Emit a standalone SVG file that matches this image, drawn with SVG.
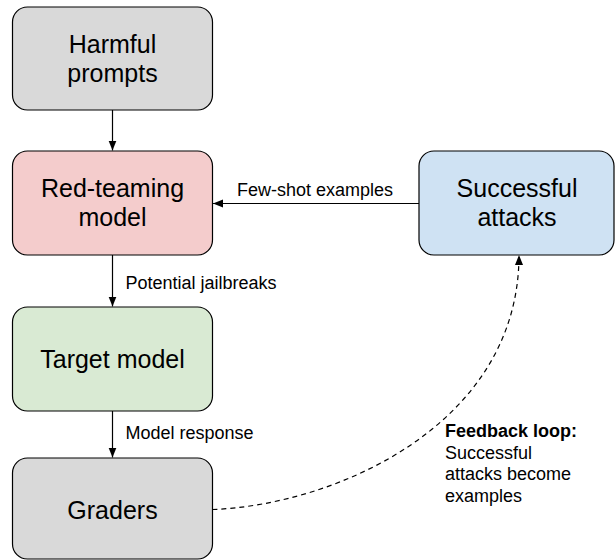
<svg xmlns="http://www.w3.org/2000/svg" width="616" height="560" viewBox="0 0 616 560">
  <style>
    .box { stroke: #000; stroke-width: 1.2; }
    .gray { fill: #d9d9d9; }
    .red { fill: #f4cccc; }
    .green { fill: #d9ead3; }
    .blue { fill: #cfe2f3; }
    .node-text { font-family: "Liberation Sans", Arial, sans-serif; font-size: 25px; fill: #000; text-anchor: middle; }
    .label { font-family: "Liberation Sans", Arial, sans-serif; font-size: 18px; fill: #000; }
    .edge { fill: none; stroke: #000; stroke-width: 1.2; }
    .dashed { stroke-dasharray: 5 4; }
  </style>
  <defs>
    <marker id="arrow" markerUnits="userSpaceOnUse" markerWidth="10" markerHeight="10" viewBox="0 0 10 10" refX="10" refY="5" orient="auto">
      <path d="M0,1 L10,5 L0,9 Z" fill="#000"/>
    </marker>
  </defs>

  <!-- connectors -->
  <g id="connectors">
    <line class="edge" x1="112.5" y1="110" x2="112.5" y2="150.5" marker-end="url(#arrow)"/>
    <line class="edge" x1="419" y1="203.5" x2="213" y2="203.5" marker-end="url(#arrow)"/>
    <line class="edge" x1="112.5" y1="255" x2="112.5" y2="306.5" marker-end="url(#arrow)"/>
    <line class="edge" x1="112.5" y1="411" x2="112.5" y2="457.5" marker-end="url(#arrow)"/>
    <path class="edge dashed" d="M212.5,509.5 C335,505 519,425 519,255" marker-end="url(#arrow)"/>
    <text class="label" x="315" y="196" text-anchor="middle">Few-shot examples</text>
    <text class="label" x="125.5" y="289">Potential jailbreaks</text>
    <text class="label" x="125.5" y="439">Model response</text>
  </g>

  <g id="harmful-prompts">
    <rect class="box gray" x="12.5" y="7" width="200" height="103" rx="15"/>
    <text class="node-text" x="112.5" y="53">Harmful</text>
    <text class="node-text" x="112.5" y="82">prompts</text>
  </g>

  <g id="red-teaming-model">
    <rect class="box red" x="12.5" y="151" width="200" height="104" rx="15"/>
    <text class="node-text" x="112.5" y="197">Red-teaming</text>
    <text class="node-text" x="112.5" y="226">model</text>
  </g>

  <g id="successful-attacks">
    <rect class="box blue" x="419" y="151" width="195" height="104" rx="15"/>
    <text class="node-text" x="517" y="197">Successful</text>
    <text class="node-text" x="517" y="226">attacks</text>
  </g>

  <g id="target-model">
    <rect class="box green" x="12.5" y="307" width="200" height="104" rx="15"/>
    <text class="node-text" x="112.5" y="368">Target model</text>
  </g>

  <g id="graders">
    <rect class="box gray" x="12.5" y="458" width="200" height="101" rx="15"/>
    <text class="node-text" x="112.5" y="519">Graders</text>
  </g>

  <g id="feedback-note">
    <text class="label" x="445" y="437" font-weight="bold">Feedback loop:</text>
    <text class="label" x="445" y="458.5">Successful</text>
    <text class="label" x="445" y="480">attacks become</text>
    <text class="label" x="445" y="501.5">examples</text>
  </g>
</svg>
